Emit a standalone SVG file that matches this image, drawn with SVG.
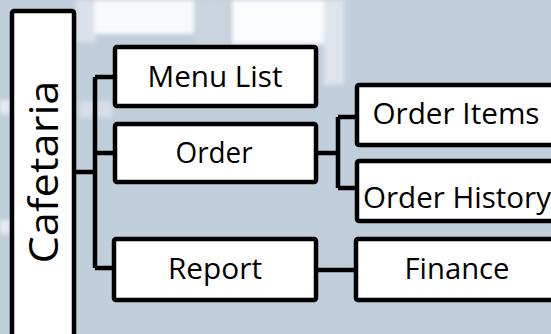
<svg xmlns="http://www.w3.org/2000/svg" width="551" height="334" viewBox="0 0 551 334">
  <style>
    .box { fill: #ffffff; stroke: #000000; stroke-width: 4.5; }
    .lbl { font-family: "Open Sans", "Noto Sans", sans-serif; font-size: 29px; fill: #000000; text-anchor: middle; }
    .wire { fill: none; stroke: #000000; stroke-width: 4.5; stroke-linejoin: miter; }
  </style>
  <defs>
    <filter id="soft" x="-10%" y="-10%" width="120%" height="120%">
      <feGaussianBlur stdDeviation="2"/>
    </filter>
  </defs>

  <!-- backdrop -->
  <rect x="0" y="0" width="551" height="334" fill="#c1cedb"/>
  <g filter="url(#soft)">
    <rect x="76" y="0" width="20" height="42" fill="#d9e1ea"/>
    <rect x="94" y="0" width="100" height="34" fill="#f7fafd"/>
    <rect x="196" y="0" width="32" height="44" fill="#c9d4df"/>
    <rect x="232" y="0" width="92" height="44" fill="#fbfcfe"/>
    <rect x="324" y="0" width="20" height="85" fill="#dde4ec"/>
    <rect x="0" y="100" width="10" height="14" fill="#e6ecf2"/>
    <rect x="0" y="220" width="10" height="14" fill="#e6ecf2"/>
    <rect x="80" y="102" width="32" height="16" fill="#d6dee8"/>
  </g>

  <!-- connectors -->
  <g id="connectors">
    <path class="wire" d="M74 172 H95 M95 77 V268 M95 77 H115 M95 153 H115 M95 268 H115"/>
    <path class="wire" d="M316 153 H338 M338 117 V188 M338 117 H357 M338 188 H357"/>
    <path class="wire" d="M316 270 H356"/>
  </g>

  <g id="cafetaria">
    <rect class="box" x="12" y="11" width="62" height="340" rx="2"/>
    <text class="lbl" transform="translate(58 172) rotate(-90)" x="0" y="0" style="font-size:41px" textLength="183" lengthAdjust="spacingAndGlyphs">Cafetaria</text>
  </g>

  <g id="menu-list">
    <rect class="box" x="115" y="47" width="201" height="59" rx="2"/>
    <text class="lbl" x="215" y="87" textLength="135" lengthAdjust="spacingAndGlyphs">Menu List</text>
  </g>

  <g id="order">
    <rect class="box" x="115" y="124" width="201" height="58" rx="2"/>
    <text class="lbl" x="214" y="163" textLength="77" lengthAdjust="spacingAndGlyphs">Order</text>
  </g>

  <g id="report">
    <rect class="box" x="114" y="239" width="202" height="61" rx="2"/>
    <text class="lbl" x="215" y="279" textLength="94" lengthAdjust="spacingAndGlyphs">Report</text>
  </g>

  <g id="order-items">
    <rect class="box" x="357" y="85" width="210" height="60" rx="2"/>
    <text class="lbl" x="456" y="124" textLength="167" lengthAdjust="spacingAndGlyphs">Order Items</text>
  </g>

  <g id="order-history">
    <rect class="box" x="357" y="161" width="210" height="60" rx="2"/>
    <text class="lbl" x="457" y="208" textLength="188" lengthAdjust="spacingAndGlyphs">Order History</text>
  </g>

  <g id="finance">
    <rect class="box" x="356" y="239" width="210" height="61" rx="2"/>
    <text class="lbl" x="457" y="279" textLength="105" lengthAdjust="spacingAndGlyphs">Finance</text>
  </g>
</svg>
